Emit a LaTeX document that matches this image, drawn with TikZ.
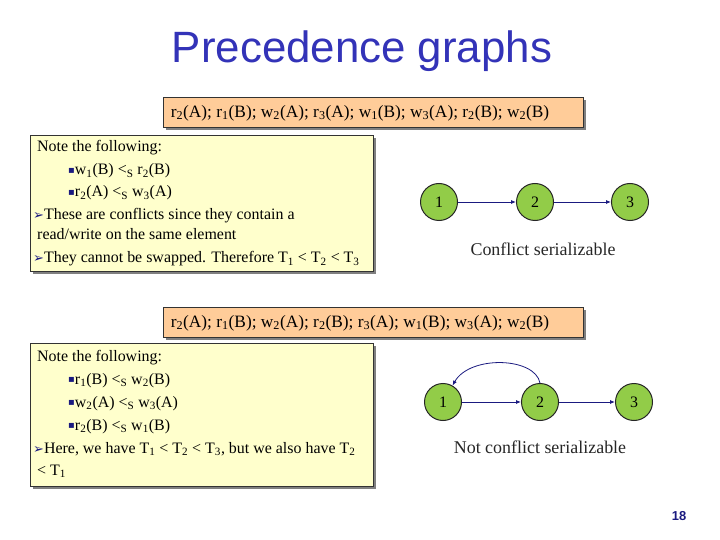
\documentclass[tikz,border=0pt]{standalone}
\usepackage{fontspec}
\setmainfont{Liberation Serif}
\newfontfamily\arial{Liberation Sans}
\newfontfamily\dejavu{DejaVu Sans}
\usetikzlibrary{arrows.meta}
\definecolor{titleblue}{HTML}{3333B8}
\definecolor{peach}{HTML}{FFCC99}
\definecolor{paleyellow}{HTML}{FFFFCC}
\definecolor{nodegreen}{HTML}{92CC48}
\definecolor{navy}{HTML}{1A1A80}
\newcommand{\bul}{{\color{navy}\dejavu\fontsize{10}{10}\selectfont\raisebox{0.2ex}{▪}}}
\newcommand{\arr}{{\color{navy}\dejavu\fontsize{13}{13}\selectfont ➢}}
\newcommand{\ls}{<\textsubscript{S}}
\begin{document}
\begin{tikzpicture}[x=1bp,y=-1bp,
  schedbox/.style={draw=black!80,fill=peach,line width=0.6bp},
  notebox/.style={draw=black!80,fill=paleyellow,line width=0.6bp},
  shadowbox/.style={fill=black!50,draw=none},
  tnode/.style={circle,draw=black!85,fill=nodegreen,line width=1bp,minimum size=37bp,inner sep=0pt,font=\fontsize{16}{16}\selectfont},
  garrow/.style={draw=navy,line width=0.8bp,-{Latex[length=5bp,width=4bp]}},
  notetext/.style={anchor=base west,font=\fontsize{16}{16}\selectfont,inner sep=0pt},
  schedtext/.style={font=\fontsize{17.4}{17.4}\selectfont,inner sep=0pt},
  caption/.style={font=\fontsize{18}{18}\selectfont,text=black!85,inner sep=0pt}
]
\useasboundingbox[fill=white] (0,0) rectangle (720,540);

% title
\node[font=\arial\fontsize{44}{44}\selectfont,text=titleblue,inner sep=0pt,anchor=base] (title) at (362,63) {Precedence graphs};

% ---- top schedule
\fill[shadowbox] (166,100) rectangle (586,130);
\draw[schedbox] (163,97) rectangle (583,127);
\node[schedtext] (s1) at (360,113) {r\textsubscript{2}(A); r\textsubscript{1}(B); w\textsubscript{2}(A); r\textsubscript{3}(A); w\textsubscript{1}(B); w\textsubscript{3}(A); r\textsubscript{2}(B); w\textsubscript{2}(B)};

% ---- note box 1
\fill[shadowbox] (33,138) rectangle (376,274);
\draw[notebox] (30,135) rectangle (373,271);
\node[notetext] (a1) at (37,152) {Note the following:};
\node[notetext] (a2) at (68,175) {\bul w\textsubscript{1}(B) \ls\ r\textsubscript{2}(B)};
\node[notetext] (a3) at (68,197) {\bul r\textsubscript{2}(A) \ls\ w\textsubscript{3}(A)};
\node[notetext] (a4) at (33,220) {\arr These are conflicts since they contain a};
\node[notetext] (a5) at (37,240) {read/write on the same element};
\node[notetext] (a6) at (33,263) {\arr They cannot be swapped. Therefore T\textsubscript{1} < T\textsubscript{2} < T\textsubscript{3}};

% ---- graph 1
\node[tnode] (g1) at (439,202) {1};
\node[tnode] (g2) at (535,202) {2};
\node[tnode] (g3) at (630,202) {3};
\draw[garrow] (g1) -- (g2);
\draw[garrow] (g2) -- (g3);
\node[caption] (c1) at (543,249) {Conflict serializable};

% ---- second schedule
\fill[shadowbox] (166,310) rectangle (586,340);
\draw[schedbox] (163,307) rectangle (583,337);
\node[schedtext] (s2) at (360,323) {r\textsubscript{2}(A); r\textsubscript{1}(B); w\textsubscript{2}(A); r\textsubscript{2}(B); r\textsubscript{3}(A); w\textsubscript{1}(B); w\textsubscript{3}(A); w\textsubscript{2}(B)};

% ---- note box 2
\fill[shadowbox] (33,346) rectangle (376,489);
\draw[notebox] (30,343) rectangle (373,486);
\node[notetext] (b1) at (37,361) {Note the following:};
\node[notetext] (b2) at (68,384) {\bul r\textsubscript{1}(B) \ls\ w\textsubscript{2}(B)};
\node[notetext] (b3) at (68,407) {\bul w\textsubscript{2}(A) \ls\ w\textsubscript{3}(A)};
\node[notetext] (b4) at (68,430) {\bul r\textsubscript{2}(B) \ls\ w\textsubscript{1}(B)};
\node[notetext] (b5) at (33,453) {\arr Here, we have T\textsubscript{1} < T\textsubscript{2} < T\textsubscript{3}, but we also have T\textsubscript{2}};
\node[notetext] (b6) at (37,475) {< T\textsubscript{1}};

% ---- graph 2
\node[tnode] (h1) at (443,402) {1};
\node[tnode] (h2) at (540,402) {2};
\node[tnode] (h3) at (634,402) {3};
\draw[garrow] (h1) -- (h2);
\draw[garrow] (h2) -- (h3);
\draw[garrow] (h2.north) .. controls (535,357) and (470,355) .. (h1.60);
\node[caption] (c2) at (540,447) {Not conflict serializable};

% page number
\node[font=\arial\bfseries\fontsize{13}{13}\selectfont,text=navy,inner sep=0pt] (pg) at (679,516) {18};
\end{tikzpicture}
\end{document}
